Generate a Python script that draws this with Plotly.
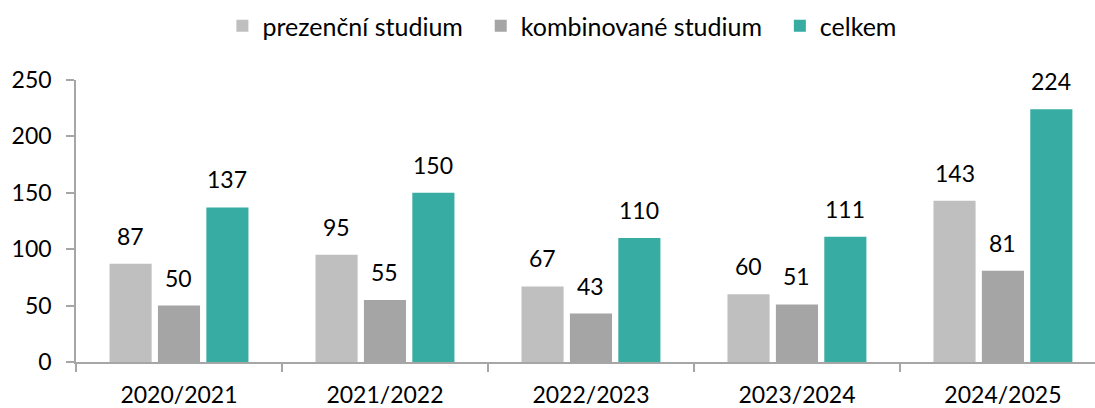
import plotly.graph_objects as go

categories = ["2020/2021", "2021/2022", "2022/2023", "2023/2024", "2024/2025"]
prezencni = [87, 95, 67, 60, 143]
kombinovane = [50, 55, 43, 51, 81]
celkem = [137, 150, 110, 111, 224]

series = [
    ("prezenční studium\u00a0\u00a0", prezencni, "#bfbfbf"),
    ("kombinované studium\u00a0\u00a0", kombinovane, "#a5a5a5"),
    ("celkem", celkem, "#36aca2"),
]

FONT = "Lato, Open Sans, sans-serif"
FS = 23
BARGAP = 0.295
SLOT = (1 - BARGAP) / len(series)

fig = go.Figure()
for name, vals, col in series:
    fig.add_trace(go.Bar(
        x=list(range(len(categories))), y=vals, name=name, marker_color=col,
        marker_line_width=0,
    ))

# value labels placed on the data scale above each bar
for k, (name, vals, col) in enumerate(series):
    off = (k - (len(series) - 1) / 2) * SLOT
    for i, v in enumerate(vals):
        fig.add_annotation(
            x=i + off, y=v, xref="x", yref="y", text=str(v), showarrow=False,
            yanchor="bottom", xanchor="center", yshift=12,
            font=dict(size=FS, family=FONT, color="#000000"),
        )

fig.update_layout(
    width=1095, height=408,
    margin=dict(l=76, r=0, t=80, b=46, autoexpand=False),
    paper_bgcolor="white", plot_bgcolor="white",
    barmode="group", bargap=BARGAP, bargroupgap=0.13,
    font=dict(family=FONT, size=FS, color="#000000"),
    showlegend=True,
    legend=dict(orientation="h", xref="container", yref="container",
                x=0.5136, xanchor="center", y=1 - 26 / 408, yanchor="middle",
                font=dict(size=25, family=FONT), itemwidth=30, traceorder="normal"),
)
fig.update_xaxes(
    range=[-0.5, 4.447], showline=True, linecolor="#a6a6a6", linewidth=1.5,
    tickmode="array", tickvals=list(range(len(categories))), ticktext=categories,
    ticks="", showgrid=False, tickfont=dict(size=FS, family=FONT),
    ticklabelstandoff=12, automargin=False, zeroline=False,
    minor=dict(tickmode="array", tickvals=[i - 0.5 for i in range(len(categories) + 1)],
               ticks="outside", ticklen=8, tickcolor="#a6a6a6", tickwidth=1.5, showgrid=False),
)
fig.update_yaxes(
    range=[0, 250], tickvals=[0, 50, 100, 150, 200, 250], showline=True,
    linecolor="#a6a6a6", linewidth=1.5, ticks="outside", ticklen=8,
    tickcolor="#a6a6a6", tickwidth=1.5, showgrid=False, zeroline=False,
    tickfont=dict(size=FS, family=FONT), ticklabelstandoff=10, automargin=False,
)
fig.write_html("out.html", config={"displayModeBar": False},
               post_script="document.body.style.margin='0';")
